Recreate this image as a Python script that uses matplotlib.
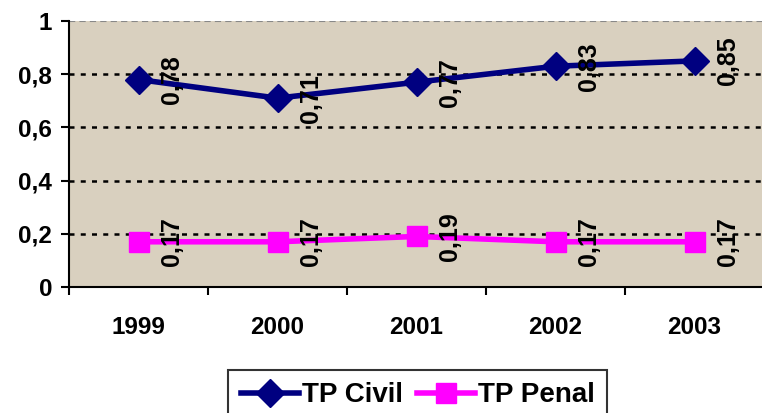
import matplotlib.pyplot as plt
import numpy as np

plt.rcParams['font.family'] = ['Liberation Sans', 'DejaVu Sans']

years = ['1999', '2000', '2001', '2002', '2003']
tp_civil = [0.78, 0.71, 0.77, 0.83, 0.85]
tp_penal = [0.17, 0.17, 0.19, 0.17, 0.17]
yticks = [0, 0.2, 0.4, 0.6, 0.8, 1]

W, H = 762, 413
fig = plt.figure(figsize=(W / 100, H / 100), dpi=100)
ax = fig.add_axes([69 / W, (H - 287) / H, 695 / W, 266 / H])
ax.set_facecolor('#d9d0bf')

x = np.arange(len(years))
ax.set_xlim(-0.5, 4.5)
ax.set_ylim(0, 1)

for v in yticks[1:-1]:
    ax.axhline(v, color='black', lw=1.8, ls=(0, (2, 2.5)), zorder=1)
ax.axhline(1, color='#888888', lw=1.5, ls=(0, (3, 2)), zorder=1)

ax.plot(x, tp_civil, color='#000080', lw=4, marker='D', ms=14,
        label='TP Civil', zorder=3)
ax.plot(x, tp_penal, color='#ff00ff', lw=4, marker='s', ms=15,
        label='TP Penal', zorder=3)

for xs, ys in [(x, tp_civil), (x, tp_penal)]:
    for xi, yi in zip(xs, ys):
        ax.annotate(f'{yi:.2f}'.replace('.', ','), (xi, yi),
                    xytext=(24, 0), textcoords='offset points',
                    rotation=90, ha='center', va='center',
                    fontsize=18, fontweight='bold', zorder=4)

ax.spines['top'].set_visible(False)
ax.spines['right'].set_visible(False)
ax.spines['left'].set_linewidth(1.5)
ax.spines['bottom'].set_linewidth(1.5)

ax.set_yticks(yticks)
ax.set_yticklabels([('%g' % v).replace('.', ',') for v in yticks],
                   fontsize=17.5, fontweight='bold')
ax.tick_params(axis='y', length=6, width=1.5, pad=6)

ax.set_xticks(x)
ax.set_xticklabels(years, fontsize=17.5, fontweight='bold')
ax.tick_params(axis='x', length=0, pad=21)
ax.set_xticks(np.arange(-0.5, 5, 1), minor=True)
ax.tick_params(axis='x', which='minor', length=6, width=1.5)

leg = fig.legend(loc='upper left', bbox_to_anchor=(228 / W, 1 - 370 / H),
                 ncol=2, prop={'weight': 'bold', 'size': 20},
                 frameon=True, fancybox=False, edgecolor='black',
                 handlelength=2.1, handletextpad=0.1, columnspacing=0.5,
                 borderpad=0.45, borderaxespad=0)
leg.get_frame().set_linewidth(1.5)

fig.savefig('out.png', dpi=100)
